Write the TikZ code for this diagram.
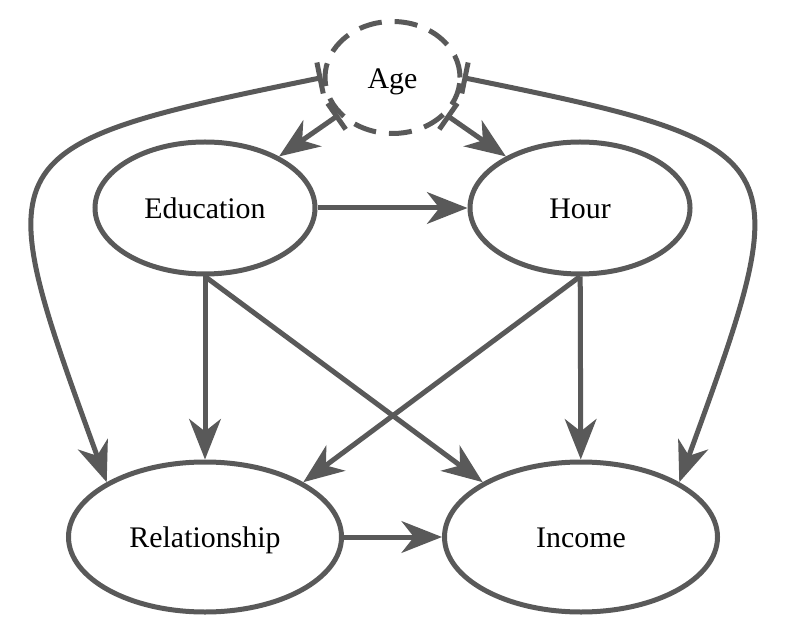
\documentclass[tikz,border=0pt]{standalone}
\usepackage{fontspec}
\setmainfont{Liberation Serif}
\usepackage{tikz}
\usetikzlibrary{arrows.meta,positioning,calc,shapes.geometric}
\usepackage{xcolor}
\definecolor{edgegray}{HTML}{595959}
\tikzset{
  var/.style={draw=edgegray,ellipse,line width=0.1cm,inner sep=0pt,
    minimum width=4.4cm,minimum height=2.64cm,text height=12.5pt,text depth=0pt,
    font=\fontsize{17}{20}\selectfont},
  outcome/.style={var,minimum width=5.46cm,minimum height=3.0cm},
  latent/.style={var,minimum width=2.7cm,minimum height=2.24cm,
    dash pattern=on 0.46cm off 0.26cm},
  arrow/.style={-{Stealth[length=23pt,width=18pt,inset=7pt]},draw=edgegray,line width=0.1cm},
  confound/.style={arrow,{Bar[width=18pt]}-{Stealth[length=23pt,width=18pt,inset=7pt]}}
}

\begin{document}
\begin{tikzpicture}[node distance=3.66cm and 3cm]
      \useasboundingbox (0,0) rectangle (15.74,12.7);
      \node[var] (edu) at (4.1,8.54) {Education};
      \node[var,right=of edu] (hour) {Hour};
      \node[outcome,below=of edu] (rel) {Relationship};
      \node[outcome,right=1.96cm of rel] (inc) {Income};
      \node[latent,above=0.07cm of {$(edu.north)!0.5!(hour.north)$}] (age) {Age};
      % confounder
      \draw[confound] (age)--(edu);
      \draw[confound] (age)--(hour);
      \draw[confound] (age.west) .. controls +(191.5:6.9) and +(110:7.0) .. (rel.north west);
      \draw[confound] (age.east) .. controls +(-11.5:6.9) and +(70:7.0) .. (inc.north east);
      % direct effects
      \draw[arrow] (edu)--(hour);
      \draw[arrow] (edu)--(rel);
      \draw[arrow] (edu.south)--(inc.north west);
      \draw[arrow] (hour.south)--(rel.north east);
      \draw[arrow] (hour)--(inc);
      \draw[arrow] (rel)--(inc);
    \end{tikzpicture}
\end{document}
